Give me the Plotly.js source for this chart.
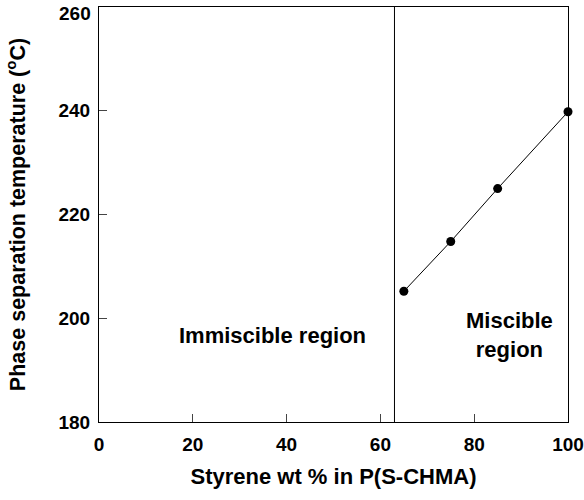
<!DOCTYPE html>
<html><head><meta charset="utf-8">
<script src="https://cdn.plot.ly/plotly-3.0.1.min.js"></script>
<style>body{margin:0;background:#fff}#c{width:584px;height:500px}</style>
</head><body><div id="c"></div>
<script>
const styrene = [65, 75, 85, 100];
const temperature = [205.2, 214.8, 225, 239.8];
const boundaryX = 63;
const xTicks = [0, 20, 40, 60, 80, 100];
const yTicks = [180, 200, 220, 240, 260];

const fam = 'Liberation Sans, Arial, sans-serif';
const yMax = yTicks[yTicks.length - 1];
const yTickText = yTicks.map(v => v === yMax ? '' : String(v));
const data = [{
  x: styrene, y: temperature, mode: 'lines+markers', type: 'scatter',
  line: {color: '#000', width: 1}, marker: {color: '#000', size: 9},
  hoverinfo: 'skip', showlegend: false, cliponaxis: false
}];
const layout = {
  width: 584, height: 500,
  margin: {l: 99, r: 16, t: 7, b: 78},
  paper_bgcolor: '#fff', plot_bgcolor: '#fff',
  font: {family: fam, color: '#000'},
  xaxis: {range: [0, 100], tickvals: xTicks, ticks: 'inside', ticklen: 8, tickwidth: 1,
    showline: true, mirror: true, linecolor: '#000', linewidth: 1, showgrid: false, zeroline: false,
    tickfont: {family: fam, size: 19, weight: 'bold'}, ticklabelstandoff: 5,
    title: {text: 'Styrene wt % in P(S-CHMA)', font: {family: fam, size: 22, weight: 'bold'}, standoff: 14}},
  yaxis: {range: [180, 260], tickvals: yTicks, ticktext: yTickText, ticks: 'inside', ticklen: 8, tickwidth: 1,
    showline: true, mirror: true, linecolor: '#000', linewidth: 1, showgrid: false, zeroline: false,
    tickfont: {family: fam, size: 19, weight: 'bold'}, ticklabelstandoff: 4,
    title: {text: 'Phase separation temperature (<sup>o</sup>C)', font: {family: fam, size: 21.5, weight: 'bold'}, standoff: 26}},
  shapes: [{type: 'line', xref: 'x', yref: 'paper', x0: boundaryX, x1: boundaryX, y0: 0, y1: 1,
    line: {color: '#000', width: 1}}],
  annotations: [
    {x: 0, y: yMax, xref: 'x', yref: 'y', text: String(yMax), showarrow: false,
      xanchor: 'right', yanchor: 'middle', xshift: -6, yshift: -6,
      font: {family: fam, size: 19, weight: 'bold'}},
    {x: 37, y: 196.7, xref: 'x', yref: 'y', text: 'Immiscible region', showarrow: false,
      font: {family: fam, size: 22, weight: 'bold'}},
    {x: 87.6, y: 196.7, xref: 'x', yref: 'y', text: 'Miscible<br>region', showarrow: false,
      font: {family: fam, size: 22, weight: 'bold'}}
  ]
};
Plotly.newPlot('c', data, layout, {displayModeBar: false, staticPlot: true});
</script></body></html>
